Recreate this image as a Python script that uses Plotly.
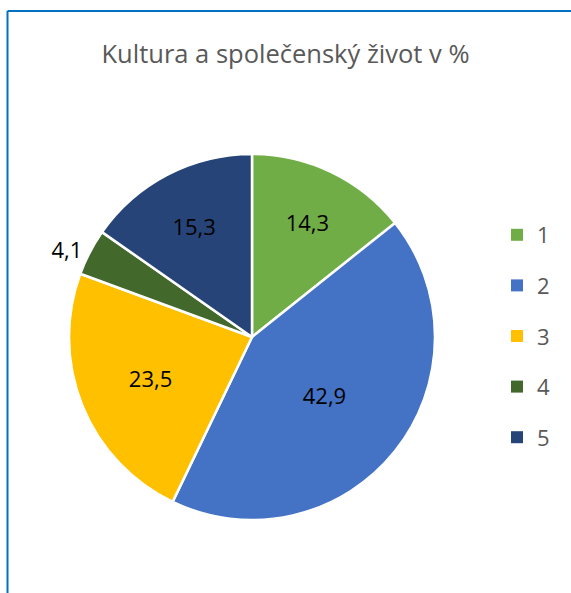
import plotly.graph_objects as go

categories = ["1", "2", "3", "4", "5"]
values = [14.3, 42.9, 23.5, 4.1, 15.3]
value_labels = ["14,3", "42,9", "23,5", "4,1", "15,3"]
colors = ["#70AD47", "#4472C4", "#FFC000", "#43682B", "#264478"]
title_text = "Kultura a společenský život v %"

W, H = 571, 593
cx, cy, r = 252, 337, 183

fig = go.Figure()
fig.add_trace(go.Pie(
    labels=categories,
    values=values,
    text=value_labels,
    textinfo="text",
    sort=False,
    direction="clockwise",
    rotation=0,
    marker=dict(colors=colors, line=dict(color="white", width=2.5)),
    textposition=["inside", "inside", "inside", "outside", "inside"],
    insidetextorientation="horizontal",
    textfont=dict(family="Open Sans", size=22, color="#000000"),
    hoverinfo="label+value",
    showlegend=False,
    domain=dict(x=[(cx - r) / W, (cx + r) / W], y=[1 - (cy + r) / H, 1 - (cy - r) / H]),
))

for c, col in zip(categories, colors):
    fig.add_trace(go.Scatter(
        x=[None], y=[None], mode="markers", name=c, legendgroup=c,
        marker=dict(symbol="square", size=12, color=col),
        showlegend=True,
    ))

fig.update_layout(
    width=W, height=H,
    margin=dict(l=0, r=0, t=0, b=0),
    paper_bgcolor="white", plot_bgcolor="white",
    xaxis=dict(visible=False), yaxis=dict(visible=False),
    title=dict(text=title_text, x=0.5, xanchor="center", y=1 - 54 / H, yanchor="middle",
               font=dict(family="Open Sans", size=25.5, color="#595959")),
    legend=dict(x=497 / W, xanchor="left", y=1 - 214 / H, yanchor="top",
                font=dict(family="Open Sans", size=22, color="#595959"),
                tracegroupgap=19, itemsizing="constant", bgcolor="rgba(0,0,0,0)"),
    shapes=[
        dict(type="line", xref="paper", yref="paper", x0=7.5 / W, x1=1.05, y0=1 - 11 / H, y1=1 - 11 / H,
             line=dict(color="#0070C0", width=2)),
        dict(type="line", xref="paper", yref="paper", x0=7.5 / W, x1=7.5 / W, y0=1 - 11 / H, y1=-0.05,
             line=dict(color="#0070C0", width=2)),
    ],
)

fig.write_html("out.html", config={"displayModeBar": False},
               post_script="document.body.style.margin='0';document.body.style.overflow='hidden';")
